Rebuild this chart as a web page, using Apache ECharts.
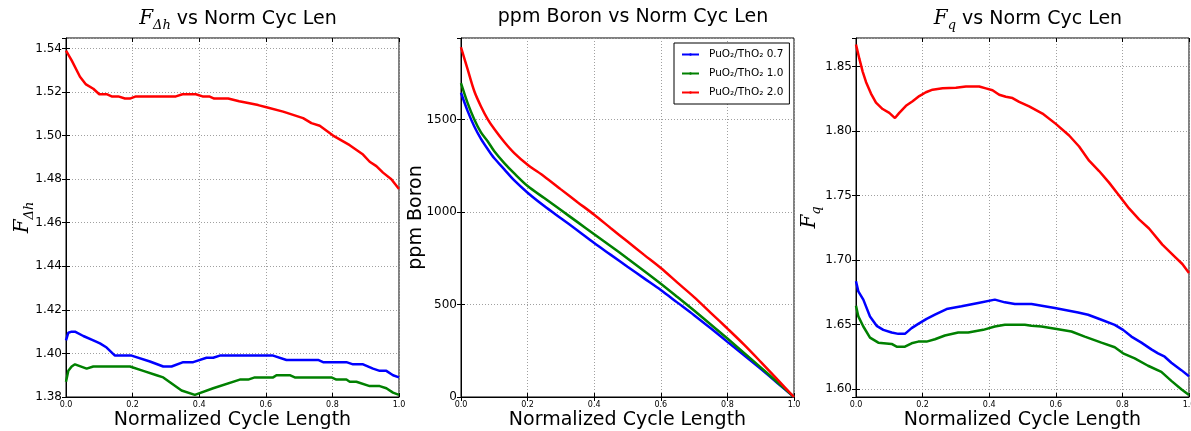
<!DOCTYPE html>
<html>
<head>
<meta charset="utf-8">
<script src="https://cdn.jsdelivr.net/npm/echarts@6/dist/echarts.min.js"></script>
<style>html,body{margin:0;padding:0;background:#fff}#c{width:1191px;height:431px}</style>
</head>
<body>
<div id="c"></div>
<script>
// ---------- Data ----------
const seriesNames = ['PuO\u2082/ThO\u2082 0.7', 'PuO\u2082/ThO\u2082 1.0', 'PuO\u2082/ThO\u2082 2.0'];
const xTickLabels = ['0.0', '0.2', '0.4', '0.6', '0.8', '1.0'];

// Panel 1: F_delta_h
const fdhBlueX = [0,0.007,0.017,0.027,0.052,0.082,0.102,0.122,0.147,0.197,0.252,0.292,0.317,0.352,0.382,0.422,0.442,0.462,0.622,0.662,0.757,0.772,0.842,0.862,0.892,0.922,0.942,0.962,0.982,1.0];
const fdhBlue  = [1.406,1.4095,1.410,1.410,1.408,1.406,1.4046,1.4027,1.399,1.399,1.3963,1.394,1.394,1.396,1.396,1.398,1.398,1.399,1.399,1.397,1.397,1.396,1.396,1.395,1.395,1.393,1.392,1.392,1.390,1.389];
const fdhGreenX = [0,0.007,0.017,0.027,0.062,0.082,0.192,0.232,0.272,0.292,0.347,0.387,0.442,0.522,0.547,0.567,0.622,0.632,0.672,0.687,0.797,0.812,0.842,0.852,0.872,0.912,0.942,0.962,0.982,1.0];
const fdhGreen  = [1.387,1.392,1.394,1.395,1.393,1.394,1.394,1.392,1.390,1.389,1.383,1.381,1.384,1.388,1.388,1.389,1.389,1.390,1.390,1.389,1.389,1.388,1.388,1.387,1.387,1.385,1.385,1.384,1.382,1.381];
const fdhRedX = [0,0.017,0.042,0.06,0.082,0.1,0.122,0.137,0.157,0.177,0.192,0.21,0.33,0.35,0.39,0.41,0.43,0.445,0.487,0.52,0.547,0.577,0.602,0.652,0.712,0.737,0.762,0.802,0.852,0.892,0.912,0.932,0.952,0.977,1.0];
const fdhRed  = [1.539,1.5345,1.527,1.5235,1.5215,1.519,1.519,1.518,1.518,1.517,1.517,1.518,1.518,1.519,1.519,1.518,1.518,1.517,1.517,1.5158,1.515,1.514,1.513,1.511,1.508,1.5057,1.5045,1.500,1.4956,1.4913,1.488,1.486,1.483,1.480,1.4755];

// Panel 2: ppm Boron
const boronX = [0,0.02,0.04,0.06,0.08,0.1,0.13,0.16,0.2,0.25,0.3,0.35,0.4,0.45,0.5,0.55,0.6,0.65,0.7,0.75,0.8,0.85,0.9,0.95,1.0];
const boronBlue  = [1644,1545,1462,1395,1340,1290,1230,1170,1104,1032,966,900,832,768,704,641,578,510,442,371,298,226,152,76,0];
const boronGreen = [1696,1588,1500,1430,1382,1328,1264,1208,1140,1075,1010,945,880,815,748,681,612,540,467,392,316,238,160,80,0];
const boronRed   = [1890,1770,1652,1570,1502,1448,1378,1318,1255,1192,1122,1053,985,912,840,768,697,618,540,455,370,283,190,95,0];

// Panel 3: F_q
const fqBlueX = [0,0.007,0.022,0.042,0.062,0.082,0.107,0.127,0.147,0.167,0.187,0.212,0.237,0.272,0.317,0.367,0.417,0.447,0.477,0.527,0.597,0.667,0.697,0.737,0.777,0.802,0.827,0.857,0.887,0.907,0.927,0.947,0.977,1.0];
const fqBlue  = [1.6836,1.6758,1.6694,1.6564,1.6491,1.646,1.6439,1.6429,1.6429,1.6473,1.6506,1.6545,1.6577,1.6621,1.6642,1.6668,1.6694,1.6673,1.666,1.666,1.6629,1.6595,1.6577,1.6538,1.6499,1.646,1.6408,1.6361,1.6309,1.6278,1.6252,1.6205,1.6148,1.6101];
const fqGreenX = [0,0.007,0.022,0.042,0.067,0.107,0.122,0.147,0.167,0.187,0.212,0.237,0.267,0.307,0.337,0.382,0.417,0.447,0.507,0.527,0.557,0.607,0.647,0.687,0.737,0.777,0.802,0.837,0.877,0.917,0.947,0.977,1.0];
const fqGreen  = [1.6647,1.6564,1.6486,1.640,1.6361,1.6351,1.633,1.633,1.6356,1.6369,1.6369,1.6387,1.6416,1.6439,1.6439,1.646,1.6486,1.6499,1.6499,1.6491,1.6486,1.6465,1.6447,1.6408,1.6361,1.6325,1.6278,1.6239,1.6182,1.6135,1.6065,1.600,1.5955];
const fqRedX = [0,0.01,0.02,0.03,0.045,0.06,0.08,0.1,0.117,0.13,0.15,0.17,0.19,0.21,0.23,0.26,0.3,0.33,0.37,0.39,0.41,0.43,0.45,0.47,0.49,0.52,0.56,0.6,0.64,0.67,0.7,0.73,0.76,0.79,0.82,0.85,0.88,0.92,0.96,0.98,1.0];
const fqRed  = [1.867,1.856,1.846,1.838,1.829,1.822,1.817,1.814,1.810,1.814,1.8195,1.823,1.827,1.830,1.832,1.833,1.8335,1.8345,1.8345,1.833,1.8315,1.828,1.8265,1.8255,1.8225,1.819,1.8135,1.8055,1.7965,1.788,1.777,1.769,1.760,1.750,1.740,1.7315,1.7245,1.712,1.702,1.697,1.690];

// ---------- Build ----------
const colors = ['#0000ff', '#008000', '#ff0000'];
const FONT = 'DejaVu Sans';
const MATH = 'DejaVu Serif';
function pairs(xs, ys) { return xs.map((x, i) => [x, ys[i]]); }

const grids = [
  { left: 66, top: 38, width: 333, height: 359 },
  { left: 461, top: 38, width: 333, height: 359 },
  { left: 856, top: 38, width: 333, height: 359 }
].map(g => Object.assign(g, { show: true, borderColor: '#000', borderWidth: 1, backgroundColor: 'transparent',
  containLabel: false, outerBoundsMode: 'none' }));

const gridLine = { show: true, lineStyle: { color: '#a0a0a0', type: [1, 2], width: 1 } };

function xAx(i) {
  return [{
    gridIndex: i, type: 'value', min: 0, max: 1, interval: 0.2,
    axisLine: { show: true, lineStyle: { color: '#000' } },
    axisTick: { show: true, inside: true, length: 4, lineStyle: { color: '#000' } },
    axisLabel: { fontFamily: FONT, fontSize: 8, color: '#000', margin: 4,
      formatter: v => xTickLabels[Math.round(v / 0.2)] },
    splitLine: gridLine,
    name: 'Normalized Cycle Length', nameLocation: 'middle', nameGap: 14, nameMoveOverlap: false,
    nameTextStyle: { fontFamily: FONT, fontSize: 19, color: '#000' }
  }, {
    gridIndex: i, type: 'value', min: 0, max: 1, interval: 0.2, position: 'top',
    axisLine: { show: false }, axisLabel: { show: false }, splitLine: { show: false },
    axisTick: { show: true, inside: true, length: 4, lineStyle: { color: '#000' } }
  }];
}

const mathRich = {
  f: { fontFamily: MATH, fontStyle: 'italic', fontWeight: 'normal', fontSize: 20, color: '#000', lineHeight: 26 },
  s: { fontFamily: MATH, fontStyle: 'italic', fontWeight: 'normal', fontSize: 13, color: '#000', verticalAlign: 'bottom', lineHeight: 14 },
  t: { fontFamily: FONT, fontWeight: 'normal', fontSize: 19, color: '#000', lineHeight: 26 }
};

function yAx(i, cfg) {
  const base = {
    gridIndex: i, type: 'value', min: cfg.min, max: cfg.max,
    minInterval: cfg.step, maxInterval: cfg.step
  };
  return [Object.assign({}, base, {
    axisLine: { show: true, lineStyle: { color: '#000' } },
    axisTick: { show: true, inside: true, length: 4, lineStyle: { color: '#000' } },
    axisLabel: { fontFamily: FONT, fontSize: 12, color: '#000', margin: 4,
      showMinLabel: cfg.showMin, showMaxLabel: false,
      formatter: v => v.toFixed(cfg.dec) },
    splitLine: gridLine,
    name: cfg.name, nameLocation: 'middle', nameGap: cfg.nameGap, nameRotate: 90, nameMoveOverlap: false,
    nameTextStyle: cfg.nameStyle
  }), Object.assign({}, base, {
    position: 'right',
    axisLine: { show: false }, axisLabel: { show: false }, splitLine: { show: false },
    axisTick: { show: true, inside: true, length: 4, lineStyle: { color: '#000' } }
  })];
}

const xAxes = [].concat(xAx(0), xAx(1), xAx(2));
const yAxes = [].concat(
  yAx(0, { min: 1.38, max: 1.5448, step: 0.02, dec: 2, showMin: true,
           name: '{f|F}{s|\u0394h}', nameGap: 30, nameStyle: { rich: mathRich } }),
  yAx(1, { min: 0, max: 1940, step: 500, dec: 0, showMin: true,
           name: 'ppm Boron', nameGap: 35, nameStyle: { fontFamily: FONT, fontSize: 19, color: '#000' } }),
  yAx(2, { min: 1.594, max: 1.872, step: 0.05, dec: 2, showMin: false,
           name: '{f|F}{s|q}', nameGap: 33, nameStyle: { rich: mathRich } })
);

function line(name, xs, ys, ci, gi, smooth) {
  return {
    name: name, type: 'line', xAxisIndex: gi * 2, yAxisIndex: gi * 2,
    data: pairs(xs, ys), symbol: 'none', smooth: smooth ? 0.3 : false,
    lineStyle: { color: colors[ci], width: 2.5 }, itemStyle: { color: colors[ci] },
    animation: false, clip: true
  };
}

const series = [
  line(seriesNames[0], fdhBlueX, fdhBlue, 0, 0),
  line(seriesNames[1], fdhGreenX, fdhGreen, 1, 0),
  line(seriesNames[2], fdhRedX, fdhRed, 2, 0),
  line(seriesNames[0], boronX, boronBlue, 0, 1, true),
  line(seriesNames[1], boronX, boronGreen, 1, 1, true),
  line(seriesNames[2], boronX, boronRed, 2, 1, true),
  line(seriesNames[0], fqBlueX, fqBlue, 0, 2),
  line(seriesNames[1], fqGreenX, fqGreen, 1, 2),
  line(seriesNames[2], fqRedX, fqRed, 2, 2)
];

const option = {
  backgroundColor: '#fff',
  animation: false,
  title: [
    { text: '{f|F}{s|\u0394h}{t| vs Norm Cyc Len}', left: 233, top: 1, textAlign: 'center', textStyle: { fontWeight: 'normal', rich: mathRich } },
    { text: 'ppm Boron vs Norm Cyc Len', left: 628, top: 3, textAlign: 'center', textStyle: { fontFamily: FONT, fontSize: 19, fontWeight: 'normal', color: '#000' } },
    { text: '{f|F}{s|q}{t| vs Norm Cyc Len}', left: 1023, top: 1, textAlign: 'center', textStyle: { fontWeight: 'normal', rich: mathRich } }
  ],
  legend: {
    data: seriesNames, left: 674, top: 43, orient: 'vertical',
    itemWidth: 17, itemHeight: 3, itemGap: 8,
    padding: [6, 6, 6, 7],
    borderColor: '#000', borderWidth: 1, borderRadius: 0, backgroundColor: '#fff',
    textStyle: { fontFamily: FONT, fontSize: 10.5, color: '#000', padding: [0, 0, 0, 5] }
  },
  grid: grids,
  xAxis: xAxes,
  yAxis: yAxes,
  series: series
};

const chart = echarts.init(document.getElementById('c'), null, { renderer: 'canvas' });
chart.setOption(option);
</script>
</body>
</html>
